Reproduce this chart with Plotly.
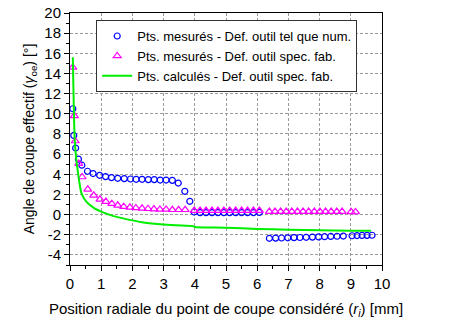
import plotly.graph_objects as go

# Blue circles: measured points - tool definition as numerical
blue_x = [0.09, 0.12, 0.18, 0.27, 0.38, 0.56, 0.74, 0.95, 1.14, 1.33, 1.53, 1.74, 1.94, 2.12, 2.31,
          2.51, 2.70, 2.89, 3.08, 3.28, 3.47, 3.68, 3.84, 3.98,
          4.17, 4.36, 4.55, 4.74, 4.93, 5.12, 5.31, 5.50, 5.69, 5.88, 6.07,
          6.39, 6.59, 6.78, 6.98, 7.18, 7.37, 7.57, 7.77, 7.97, 8.16, 8.36, 8.56, 8.76,
          9.04, 9.20, 9.36, 9.52, 9.68]
blue_y = [10.5, 7.85, 6.6, 5.5, 4.9, 4.3, 4.07, 3.9, 3.77, 3.67, 3.6, 3.57, 3.53, 3.5, 3.5,
          3.47, 3.47, 3.43, 3.43, 3.4, 3.13, 2.31, 1.32, 0.26,
          0.2, 0.2, 0.2, 0.2, 0.2, 0.2, 0.2, 0.2, 0.2, 0.2, 0.22,
          -2.35, -2.33, -2.32, -2.3, -2.28, -2.27, -2.25, -2.23, -2.21, -2.19, -2.17, -2.15, -2.13,
          -2.1, -2.08, -2.07, -2.06, -2.05]

# Magenta triangles: measured points - manufacturer spec
mag_x = [0.09, 0.14, 0.17, 0.28, 0.39, 0.57, 0.76, 0.96, 1.15, 1.34, 1.53, 1.72, 1.92, 2.11, 2.31,
         2.50, 2.69, 2.88, 3.08, 3.28, 3.48, 3.69,
         3.98, 4.17, 4.36, 4.55, 4.74, 4.93, 5.12, 5.31, 5.50, 5.69, 5.88, 6.07,
         6.39, 6.57, 6.75, 6.93, 7.11, 7.29, 7.47, 7.65, 7.83, 8.01, 8.19, 8.37, 8.55, 8.72,
         9.01, 9.15]
mag_y = [14.6, 9.8, 7.3, 5.06, 3.73, 2.51, 1.91, 1.52, 1.29, 1.09, 0.92, 0.79, 0.72, 0.66, 0.62,
         0.58, 0.55, 0.52, 0.52, 0.48, 0.48, 0.48,
         0.4, 0.4, 0.4, 0.4, 0.4, 0.4, 0.4, 0.4, 0.4, 0.4, 0.4, 0.4,
         0.3, 0.3, 0.3, 0.3, 0.3, 0.3, 0.3, 0.3, 0.3, 0.3, 0.3, 0.3, 0.3, 0.3,
         0.28, 0.26]

# Green line: calculated points - manufacturer spec
calc_x = [0.09, 0.11, 0.13, 0.15, 0.20, 0.25, 0.30, 0.36, 0.45, 0.60, 0.80, 1.00, 1.40, 1.80,
          2.30, 2.90, 3.40, 3.95, 4.00, 5.00, 6.00, 7.00, 8.00, 9.00, 9.65]
calc_y = [15.6, 12.5, 9.5, 7.5, 5.5, 4.3, 3.2, 2.2, 1.6, 1.05, 0.6, 0.3, -0.15, -0.45,
          -0.75, -0.95, -1.06, -1.15, -1.22, -1.3, -1.42, -1.5, -1.56, -1.6, -1.6]

x_ticks = list(range(0, 11))
y_ticks = list(range(-4, 21, 2))

FONT = "Liberation Sans, Arial, sans-serif"

fig = go.Figure()
fig.add_trace(go.Scatter(
    x=blue_x, y=blue_y, mode="markers",
    name="Pts. mesurés - Def. outil tel que num.",
    marker=dict(symbol="circle-open", size=6, color="#0000ff", line=dict(width=1.2)),
))
fig.add_trace(go.Scatter(
    x=mag_x, y=mag_y, mode="markers",
    name="Pts. mesurés - Def. outil spec. fab.",
    marker=dict(symbol="triangle-up-open", size=7, color="#ff00ff", line=dict(width=1.2)),
))
fig.add_trace(go.Scatter(
    x=calc_x, y=calc_y, mode="lines",
    name="Pts. calculés - Def. outil spec. fab.",
    line=dict(color="#00ee00", width=2, shape="spline", smoothing=0.6),
))

axis_common = dict(
    showline=True, linecolor="black", linewidth=1, mirror=True, automargin=False,
    showgrid=True, gridcolor="#9a9a9a", gridwidth=1, griddash="3px,2px",
    zeroline=False, ticks="outside", ticklen=5, tickcolor="black", tickwidth=1,
    ticklabeloverflow="allow",
    tickfont=dict(family=FONT, size=15, color="black"),
)

fig.update_xaxes(
    range=[0, 10], tickvals=x_ticks, ticktext=[str(v) for v in x_ticks],
    minor=dict(dtick=0.5, ticks="outside", ticklen=3, tickcolor="black", showgrid=False),
    title=dict(text="Position radiale du point de coupe considéré (<i>r</i><sub><i>i</i></sub>) [mm]",
               font=dict(family=FONT, size=15, color="black"), standoff=12),
    **axis_common,
)
fig.update_yaxes(
    range=[-5, 20], tickvals=y_ticks, ticktext=[str(v) for v in y_ticks],
    minor=dict(dtick=1, ticks="outside", ticklen=3, tickcolor="black", showgrid=False),
    title=dict(text="Angle de coupe effectif (<i>γ</i><sub>oe</sub>) [°]",
               font=dict(family=FONT, size=14, color="black"), standoff=6),
    **axis_common,
)

fig.update_layout(
    width=456, height=322,
    margin=dict(l=70, r=74, t=13, b=57),
    paper_bgcolor="white", plot_bgcolor="white",
    font=dict(family=FONT, color="black"),
    showlegend=True,
    legend=dict(
        x=0.084, y=0.972, xanchor="left", yanchor="top",
        bgcolor="white", bordercolor="#333333", borderwidth=1,
        font=dict(family=FONT, size=13, color="black"),
        itemwidth=30, tracegroupgap=0,
    ),
)

# remove the default page margin so the figure sits at the window's top-left corner
fig.write_html("out.html", config={"displayModeBar": False},
               post_script="document.body.style.margin='0px';")
